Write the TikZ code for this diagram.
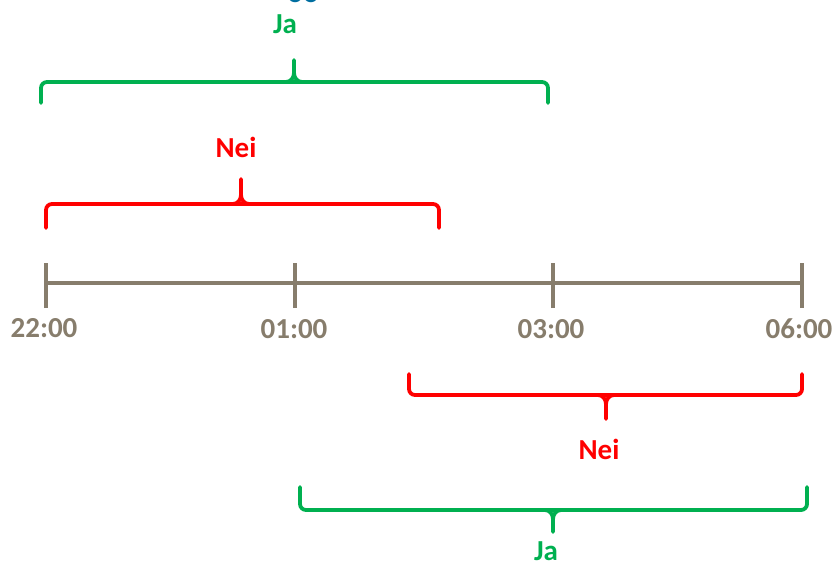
\documentclass[tikz,border=0pt]{standalone}
\usepackage{fontspec}
\setmainfont{Carlito}
\definecolor{axisgray}{RGB}{135,125,108}
\definecolor{okgreen}{RGB}{0,176,80}
\definecolor{nored}{RGB}{255,0,0}
\definecolor{titleblue}{RGB}{0,110,160}
\tikzset{
  axis/.style={draw=axisgray, line width=4pt},
  timelabel/.style={text=axisgray, font=\fontsize{29}{30}\selectfont\bfseries, inner sep=0pt},
  bracelabel/.style={font=\fontsize{29}{30}\selectfont\bfseries, inner sep=0pt},
  brace/.style={line width=3.8pt, rounded corners=6pt, line cap=round},
  tip/.style={line width=3.8pt, line cap=round}
}
\begin{document}
\begin{tikzpicture}[x=1pt,y=-1pt]
\useasboundingbox (0,0) rectangle (834,568);

% heading above, mostly outside the page
\node[bracelabel, text=titleblue, anchor=base] (head) at (303,2) {oo};

% time axis
\coordinate (t22) at (46,283);
\coordinate (t01) at (295,283);
\coordinate (t03) at (553,283);
\coordinate (t06) at (802,283);
\draw[axis] (t22) -- (t06);
\foreach \p in {t22,t01,t03,t06}
  \draw[axis] ([yshift=-25pt]\p) -- ([yshift=20pt]\p);

\node[timelabel] (l22) at (44,328) {22:00};
\node[timelabel] (l01) at (294,329) {01:00};
\node[timelabel] (l03) at (551,329) {03:00};
\node[timelabel] (l06) at (799,329) {06:00};

% upper green brace: 22:00 to 03:00
\draw[brace, okgreen] (41,103) -- (41,82) -- (548,82) -- (548,103);
\draw[tip, okgreen] (286,82) to[out=0,in=-90] (294,73) -- (294,60);
\draw[tip, okgreen] (302,82) to[out=180,in=-90] (294,73);
\node[bracelabel, text=okgreen] (ja1) at (285,24) {Ja};

% upper red brace
\draw[brace, nored] (46,228) -- (46,204) -- (439,204) -- (439,228);
\draw[tip, nored] (233,204) to[out=0,in=-90] (241,195) -- (241,179);
\draw[tip, nored] (249,204) to[out=180,in=-90] (241,195);
\node[bracelabel, text=nored] (nei1) at (236,147) {Nei};

% lower red brace
\draw[brace, nored] (409,374) -- (409,395) -- (802,395) -- (802,374);
\draw[tip, nored] (598,395) to[out=0,in=90] (606,404) -- (606,419);
\draw[tip, nored] (614,395) to[out=180,in=90] (606,404);
\node[bracelabel, text=nored] (nei2) at (599,449) {Nei};

% lower green brace: 01:00 to 06:00
\draw[brace, okgreen] (300,487) -- (300,510) -- (807,510) -- (807,487);
\draw[tip, okgreen] (545,510) to[out=0,in=90] (553,519) -- (553,532);
\draw[tip, okgreen] (561,510) to[out=180,in=90] (553,519);
\node[bracelabel, text=okgreen] (ja2) at (546,551) {Ja};
\end{tikzpicture}
\end{document}
